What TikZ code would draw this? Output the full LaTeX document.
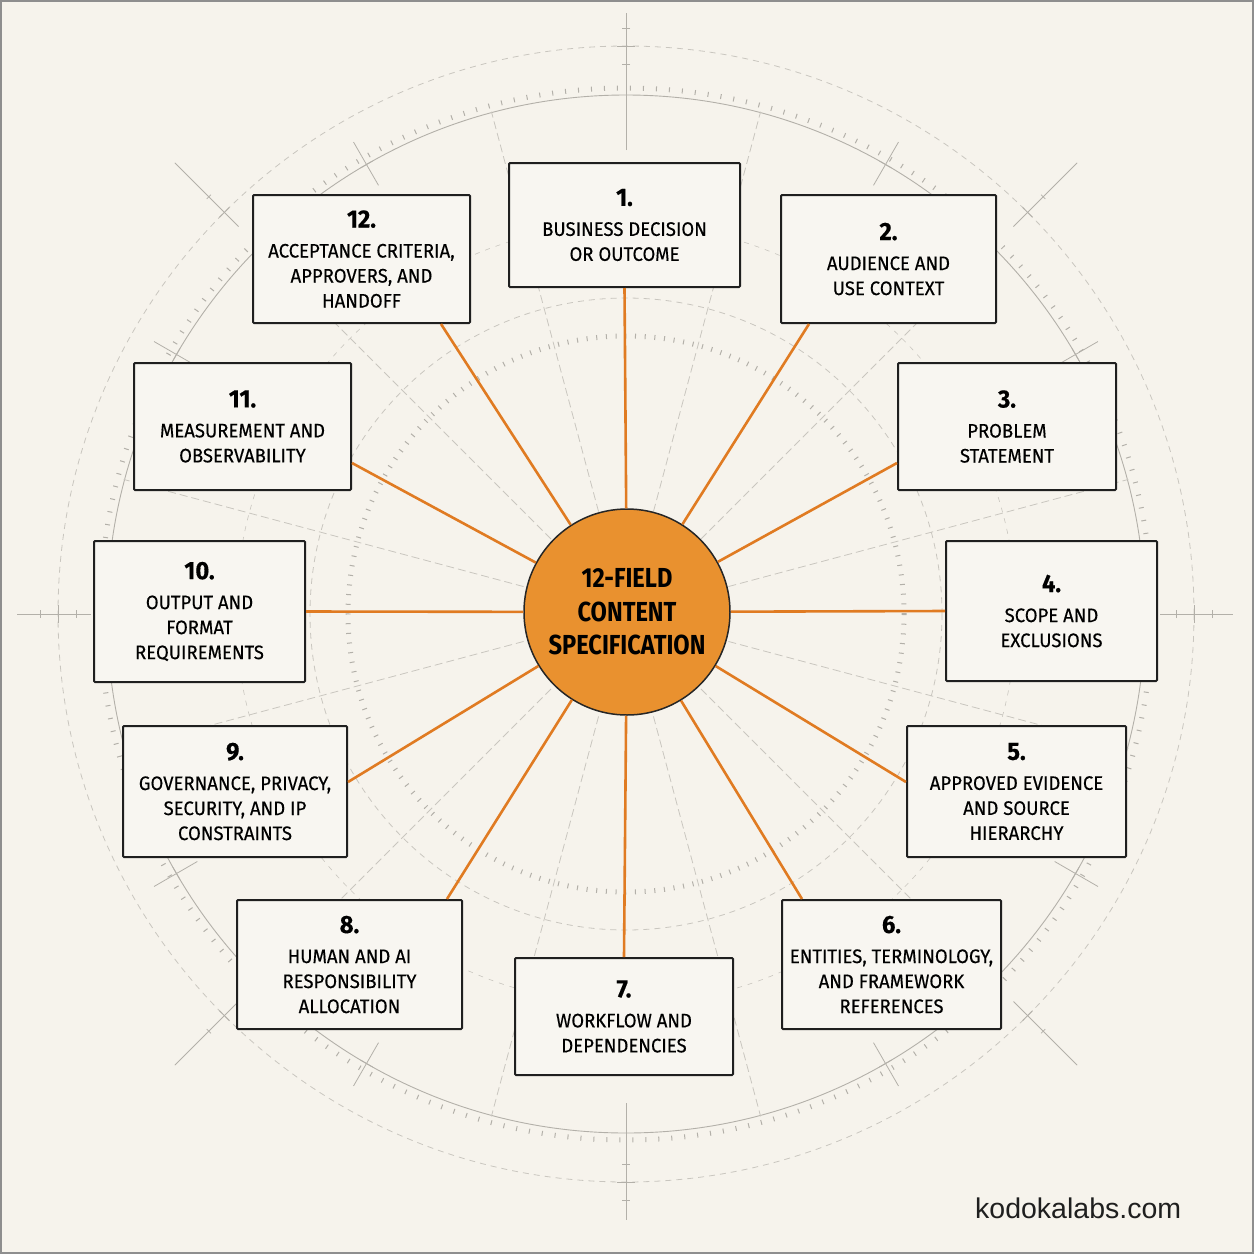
\documentclass[tikz,border=0pt]{standalone}
\usepackage{fontspec}
\setmainfont{Fira Sans}[FakeStretch=0.86]
\newfontfamily\bodyfont{Fira Sans}[FakeStretch=0.95, FakeBold=0.35]
\newfontfamily\wmfont{Liberation Sans}
\usetikzlibrary{backgrounds}
\definecolor{bgc}{HTML}{F6F3EC}
\definecolor{boxfill}{HTML}{F8F6F1}
\definecolor{spoke}{HTML}{E07B22}
\definecolor{hub}{HTML}{E9912F}
\definecolor{guide}{HTML}{C9C6BF}
\definecolor{guidedark}{HTML}{B3B0A9}
\definecolor{framec}{HTML}{8E8E8E}
\newcommand\cardtext[2]{{\fontsize{25}{25}\selectfont\bfseries #1}\\[5pt]#2}
\begin{document}
\begin{tikzpicture}[x=1pt,y=-1pt,
  card/.style={draw=black!88, line width=2pt, fill=boxfill, rounded corners=1pt, inner sep=0pt, align=center, font=\bodyfont\fontsize{19.5}{25}\selectfont},
  hubnode/.style={circle, draw=black!85, line width=1.5pt, fill=hub, minimum size=206pt, inner sep=0pt, align=center, font=\fontsize{27.5}{33.5}\selectfont\bfseries},
  link/.style={draw=spoke, line width=2.6pt},
  guideline/.style={draw=guide, line width=0.8pt},
  markline/.style={draw=guidedark, line width=0.8pt},
]
\useasboundingbox (0,0) rectangle (1254,1254);

% nodes
\node[hubnode] (c) at (627,612) {12-FIELD\\CONTENT\\SPECIFICATION};
\node[card, minimum width=231pt, minimum height=124pt] (b1) at (624.5,225) {\cardtext{1.}{BUSINESS DECISION\\OR OUTCOME}};
\node[card, minimum width=215pt, minimum height=128pt] (b2) at (888.5,259) {\cardtext{2.}{AUDIENCE AND\\USE CONTEXT}};
\node[card, minimum width=218pt, minimum height=127pt] (b3) at (1007,426.5) {\cardtext{3.}{PROBLEM\\STATEMENT}};
\node[card, minimum width=211pt, minimum height=140pt] (b4) at (1051.5,611) {\cardtext{4.}{SCOPE AND\\EXCLUSIONS}};
\node[card, minimum width=219pt, minimum height=131pt] (b5) at (1016.5,791.5) {\cardtext{5.}{APPROVED EVIDENCE\\AND SOURCE\\HIERARCHY}};
\node[card, minimum width=219pt, minimum height=129pt] (b6) at (891.5,964.5) {\cardtext{6.}{ENTITIES, TERMINOLOGY,\\AND FRAMEWORK\\REFERENCES}};
\node[card, minimum width=218pt, minimum height=117pt] (b7) at (624,1016.5) {\cardtext{7.}{WORKFLOW AND\\DEPENDENCIES}};
\node[card, minimum width=225pt, minimum height=129pt] (b8) at (349.5,964.5) {\cardtext{8.}{HUMAN AND AI\\RESPONSIBILITY\\ALLOCATION}};
\node[card, minimum width=224pt, minimum height=131pt] (b9) at (235,791.5) {\cardtext{9.}{GOVERNANCE, PRIVACY,\\SECURITY, AND IP\\CONSTRAINTS}};
\node[card, minimum width=211pt, minimum height=141pt] (b10) at (199.5,611.5) {\cardtext{10.}{OUTPUT AND\\FORMAT\\REQUIREMENTS}};
\node[card, minimum width=217pt, minimum height=127pt] (b11) at (242.5,426.5) {\cardtext{11.}{MEASUREMENT AND\\OBSERVABILITY}};
\node[card, minimum width=217pt, minimum height=128pt] (b12) at (361.5,259) {\cardtext{12.}{ACCEPTANCE CRITERIA,\\APPROVERS, AND\\HANDOFF}};
\node[anchor=base west, font=\wmfont\fontsize{28.5}{30}\selectfont, inner sep=0pt, text=black!88] (wm) at (975,1218) {kodokalabs.com};

% spokes
\draw[link] (c) -- (b1.south);
\draw[link] (c) -- ([xshift=29pt]b2.south west);
\draw[link] (c) -- ([yshift=-36.5pt]b3.west);
\draw[link] (c) -- (b4.west);
\draw[link] (c) -- ([yshift=9.5pt]b5.west);
\draw[link] (c) -- ([xshift=21pt]b6.north west);
\draw[link] (c) -- (b7.north);
\draw[link] (c) -- ([xshift=-16pt]b8.north east);
\draw[link] (c) -- ([yshift=9.5pt]b9.east);
\draw[link] (c) -- (b10.east);
\draw[link] (c) -- ([yshift=-36.5pt]b11.east);
\draw[link] (c) -- ([xshift=-30pt]b12.south east);

\begin{pgfonlayer}{background}
\fill[bgc] (0,0) rectangle (1254,1254);
\begin{scope}[shift={(626,614)}]
  % rings
  \draw[guideline, dash pattern=on 6pt off 5pt] (0,0) circle[radius=568];
  \draw[markline, line width=0.9pt] (0,0) circle[radius=519];
  \draw[guidedark, line width=5pt, dash pattern=on 1pt off 12pt] (0,0) circle[radius=526];
  \draw[guideline, dash pattern=on 5pt off 6pt, line width=0.6pt] (0,0) circle[radius=390];
  \draw[guideline, dash pattern=on 6pt off 5pt] (0,0) circle[radius=316];
  \draw[guidedark, line width=5pt, dash pattern=on 1pt off 8.7pt] (0,0) circle[radius=278];
  % radial guides
  \foreach \a in {15,45,...,345}
    \draw[guideline, dash pattern=on 8pt off 4pt] (\a:106) -- (\a:520);
  % cardinal crosshairs
  \draw[markline] (-90:464) -- (-90:601);
  \draw[markline] (90:489) -- (90:606);
  \draw[markline] (180:535) -- (180:609);
  \draw[markline] (0:534) -- (0:607);
  \foreach \a in {0,90,180,270}{
    \draw[markline] (\a:568) ++(\a+90:9) -- ++(\a-90:18);
    \draw[markline] (\a:550) ++(\a+90:4) -- ++(\a-90:8);
    \draw[markline] (\a:586) ++(\a+90:4) -- ++(\a-90:8);
  }
  % diagonal crosshairs
  \foreach \a in {45,135,225,315}{
    \draw[markline] (\a:548) -- (\a:638);
    \draw[markline] (\a:568) ++(\a+90:7) -- ++(\a-90:14);
    \draw[markline] (\a:590) ++(\a+90:3) -- ++(\a-90:6);
  }
  % 30-degree marks
  \foreach \a in {30,60,120,150,210,240,300,330}{
    \draw[markline] (\a:495) -- (\a:545);
    \draw[markline] (\a:519) ++(\a+90:7) -- ++(\a-90:14);
  }
\end{scope}
\draw[framec, line width=2pt] (1,1) rectangle (1253,1253);
\end{pgfonlayer}
\end{tikzpicture}
\end{document}
